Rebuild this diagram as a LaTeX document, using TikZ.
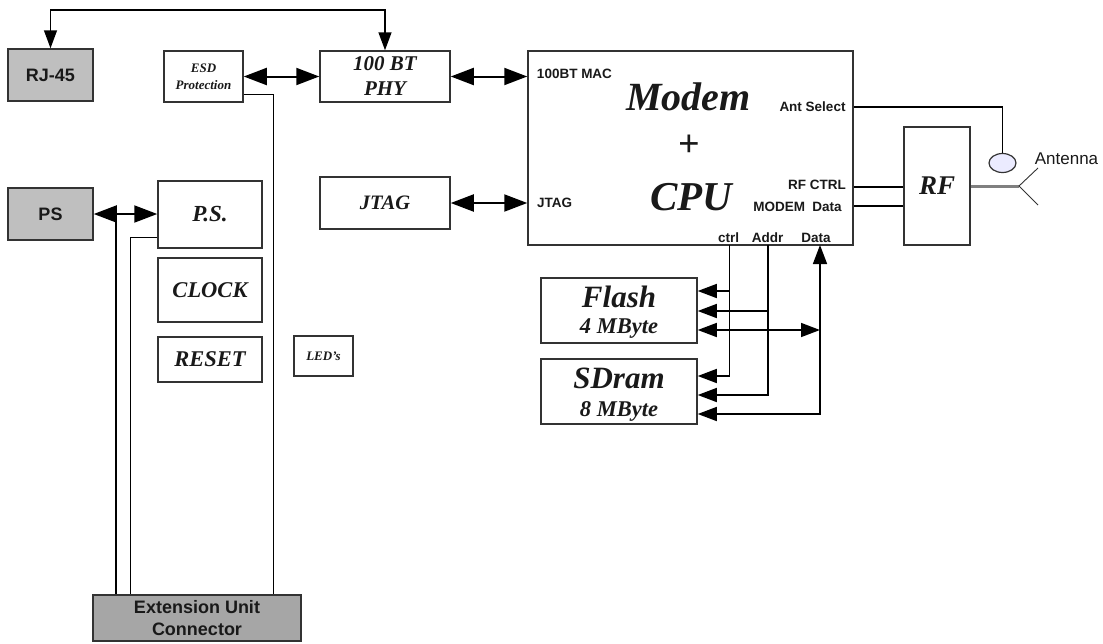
\documentclass[tikz,border=0pt]{standalone}
\usepackage{fontspec}
\setmainfont{Liberation Serif}
\setsansfont{Liberation Sans}
\usetikzlibrary{arrows.meta,shapes.geometric}
\newcommand{\titlefont}[2]{\fontsize{#1}{#2}\selectfont\bfseries\itshape}
\newcommand{\labelfont}[2]{\fontsize{#1}{#2}\selectfont\sffamily\bfseries}
\begin{document}
\begin{tikzpicture}[x=1pt,y=1pt,node distance=100pt]

  \tikzstyle{block}=[rectangle,draw=black!80,line width=1.5pt,fill=white,inner sep=0pt,align=center,text=black!90]
  \tikzstyle{grayblock}=[block,fill=black!25,font=\labelfont{18}{22}]
  \tikzstyle{texto}=[inner sep=0pt,align=center,text=black!90]
  \tikzstyle{pin}=[texto,font=\labelfont{13.5}{16}]
  \tikzstyle{bigarrow}=[line width=2pt,black,{Triangle[length=23pt,width=17pt]}-{Triangle[length=23pt,width=17pt]}]
  \tikzstyle{smallarrow}=[line width=1.5pt,black,-{Triangle[length=19pt,width=14pt]}]
  \tikzstyle{wire}=[line width=1.5pt,black]

  \useasboundingbox (0,0) rectangle (1103,-643);

  \begin{scope}

    \node [grayblock,minimum width=85pt,minimum height=52pt] (rj45) at (50.5,-75) {RJ-45};

    \node [block,minimum width=79pt,minimum height=51pt,font=\titlefont{13}{17}] (esd) [right of=rj45,xshift=53pt,yshift=-1.5pt] {ESD\\Protection};

    \node [block,minimum width=130pt,minimum height=51pt,font=\titlefont{21}{25}] (phy) [right of=esd,xshift=81.5pt] {100 BT\\PHY}
    edge [bigarrow] (esd);

    \node [block,minimum width=325pt,minimum height=194pt] (modem) [right of=phy,xshift=205.5pt,yshift=-71.5pt] {};

    \node [block,minimum width=130pt,minimum height=52pt,font=\titlefont{20.5}{25}] (jtag) [below of=phy,yshift=-26.5pt] {JTAG}
    edge [bigarrow] (jtag -| modem.west);

    \draw [bigarrow] (phy) -- (phy -| modem.west);

    \node [grayblock,minimum width=85pt,minimum height=52pt] (psin) [below of=rj45,yshift=-39pt] {PS};

    \node [block,minimum width=104pt,minimum height=67pt,font=\titlefont{23}{27}] (ps) [right of=psin,xshift=59.5pt,yshift=-.5pt] {P.S.};

    \draw [bigarrow] (psin) -- (psin -| ps.west);

    \node [block,minimum width=104pt,minimum height=64pt,font=\titlefont{22.5}{27}] (clock) [below of=ps,yshift=24.5pt] {CLOCK};

    \node [block,minimum width=104pt,minimum height=45pt,font=\titlefont{22.5}{27}] (reset) [below of=clock,yshift=30.5pt] {RESET};

    \node [block,minimum width=59pt,minimum height=40pt,font=\titlefont{13}{16}] (leds) [right of=reset,xshift=13.5pt,yshift=3.5pt] {LED's};

    \node [block,fill=black!35,minimum width=208pt,minimum height=46pt,font=\labelfont{18}{22}] (ext) [below of=reset,xshift=-13pt,yshift=-158.5pt] {Extension Unit\\Connector};

    \node [block,minimum width=156pt,minimum height=65pt] (flash) [below of=modem,xshift=-71.5pt,yshift=-62.5pt] {};

    \node [block,minimum width=156pt,minimum height=65pt] (sdram) [below of=flash,yshift=19pt] {};

    \node [texto,font=\titlefont{31}{32}] (flashtxt) [below of=flash,yshift=113.5pt] {Flash};
    \node [texto,font=\titlefont{22.5}{25}] (flashsize) [below of=flash,yshift=81.5pt] {4 MByte};
    \node [texto,font=\titlefont{31}{32}] (sdramtxt) [below of=sdram,yshift=113.5pt] {SDram};
    \node [texto,font=\titlefont{22.5}{25}] (sdramsize) [below of=sdram,yshift=80.5pt] {8 MByte};

    \node [block,minimum width=66pt,minimum height=118pt,font=\titlefont{27}{30}] (rf) [right of=modem,xshift=146.5pt,yshift=-38pt] {RF};

    \node [ellipse,draw=black!80,line width=1.2pt,fill=blue!8,inner sep=0pt,minimum width=27pt,minimum height=19pt] (antsw) [right of=rf,xshift=-34.5pt,yshift=23pt] {};

    \node [texto,font=\titlefont{40}{44}] (modemtxt) [right of=modem,xshift=-102pt,yshift=51pt] {Modem};
    \node [texto,font=\fontsize{38}{40}\selectfont\bfseries] (plustxt) [right of=modem,xshift=-101.5pt,yshift=2pt] {+};
    \node [texto,font=\titlefont{41}{44}] (cputxt) [right of=modem,xshift=-99.5pt,yshift=-49pt] {CPU};

    \node [pin] (macpin) [right of=modem,xshift=-216pt,yshift=74pt] {100BT MAC};
    \node [pin] (jtagpin) [right of=modem,xshift=-236pt,yshift=-55pt] {JTAG};
    \node [pin] (antpin) [right of=modem,xshift=22pt,yshift=41pt] {Ant Select};
    \node [pin] (rfpin) [right of=modem,xshift=26.5pt,yshift=-37pt] {RF CTRL};
    \node [pin] (datapin) [right of=modem,xshift=7pt,yshift=-59pt] {MODEM\ \ Data};
    \node [pin] (ctrlpin) [right of=modem,xshift=-62pt,yshift=-90pt] {ctrl};
    \node [pin] (addrpin) [right of=modem,xshift=-23pt,yshift=-90pt] {Addr};
    \node [pin] (dbuspin) [right of=modem,xshift=25.5pt,yshift=-90pt] {Data};

    \coordinate [above of=rj45,yshift=-35pt] (topbus);
    \draw [wire,{Triangle[length=18pt,width=13pt]}-{Triangle[length=18pt,width=13pt]}] (rj45.north) |- (phy.north |- topbus) -- (phy.north);

    \coordinate (esdout) at ([yshift=-18pt]esd.east);
    \coordinate [right of=esd,xshift=-30pt] (esdbus);
    \draw [wire] (esdout) -- (esdout -| esdbus) -- (esdbus |- ext.north);

    \coordinate [right of=psin,xshift=-34.5pt] (psbus);
    \draw [wire] (psbus) -- (psbus |- ext.north);

    \coordinate (psout) at ([yshift=-23pt]ps.west);
    \coordinate [right of=psin,xshift=-20pt] (pwrbus);
    \draw [wire] (psout) -- (psout -| pwrbus) -- (pwrbus |- ext.north);

    \coordinate (antout) at ([yshift=41pt]modem.east);
    \draw [wire] (antout) -| (antsw.north);

    \coordinate (rfctrl) at ([yshift=-39pt]modem.east);
    \coordinate (rfdata) at ([yshift=-58pt]modem.east);
    \draw [wire] (rfctrl) -- (rfctrl -| rf.west);
    \draw [wire] (rfdata) -- (rfdata -| rf.west);

    \coordinate [right of=rf,xshift=-18pt] (antfork);
    \coordinate [right of=antfork,xshift=-81pt,yshift=18pt] (anthi);
    \coordinate [right of=antfork,xshift=-81pt,yshift=-19pt] (antlo);
    \draw [line width=3pt,black!50] (rf.east) -- (antfork);
    \draw [line width=.9pt,black!80] (anthi) -- (antfork) -- (antlo);
    \node [texto,font=\fontsize{17}{20}\selectfont\sffamily] (anttxt) [right of=antfork,xshift=-52.5pt,yshift=27pt] {Antenna};

    \coordinate [right of=modem,xshift=-61pt,yshift=-97pt] (ctrlbus);
    \coordinate [right of=modem,xshift=-22.5pt,yshift=-97pt] (addrbus);
    \coordinate [right of=modem,xshift=29.5pt,yshift=-97pt] (databus);

    \coordinate (flashctrl) at ([yshift=19.5pt]flash.east);
    \coordinate (flashaddr) at ([yshift=-.5pt]flash.east);
    \coordinate (flashdata) at ([yshift=-19.5pt]flash.east);
    \coordinate (sdramctrl) at ([yshift=15.5pt]sdram.east);
    \coordinate (sdramaddr) at ([yshift=-3.5pt]sdram.east);
    \coordinate (sdramdata) at ([yshift=-22.5pt]sdram.east);

    \draw [smallarrow] (ctrlbus) |- (sdramctrl);
    \draw [smallarrow] (flashctrl -| ctrlbus) -- (flashctrl);
    \draw [smallarrow] (addrbus) |- (sdramaddr);
    \draw [smallarrow] (flashaddr -| addrbus) -- (flashaddr);
    \draw [smallarrow,{Triangle[length=19pt,width=14pt]}-{Triangle[length=19pt,width=14pt]}] (databus) |- (sdramdata);
    \draw [smallarrow,{Triangle[length=19pt,width=14pt]}-{Triangle[length=19pt,width=14pt]}] (flashdata) -- (flashdata -| databus);

  \end{scope}

\end{tikzpicture}
\end{document}
